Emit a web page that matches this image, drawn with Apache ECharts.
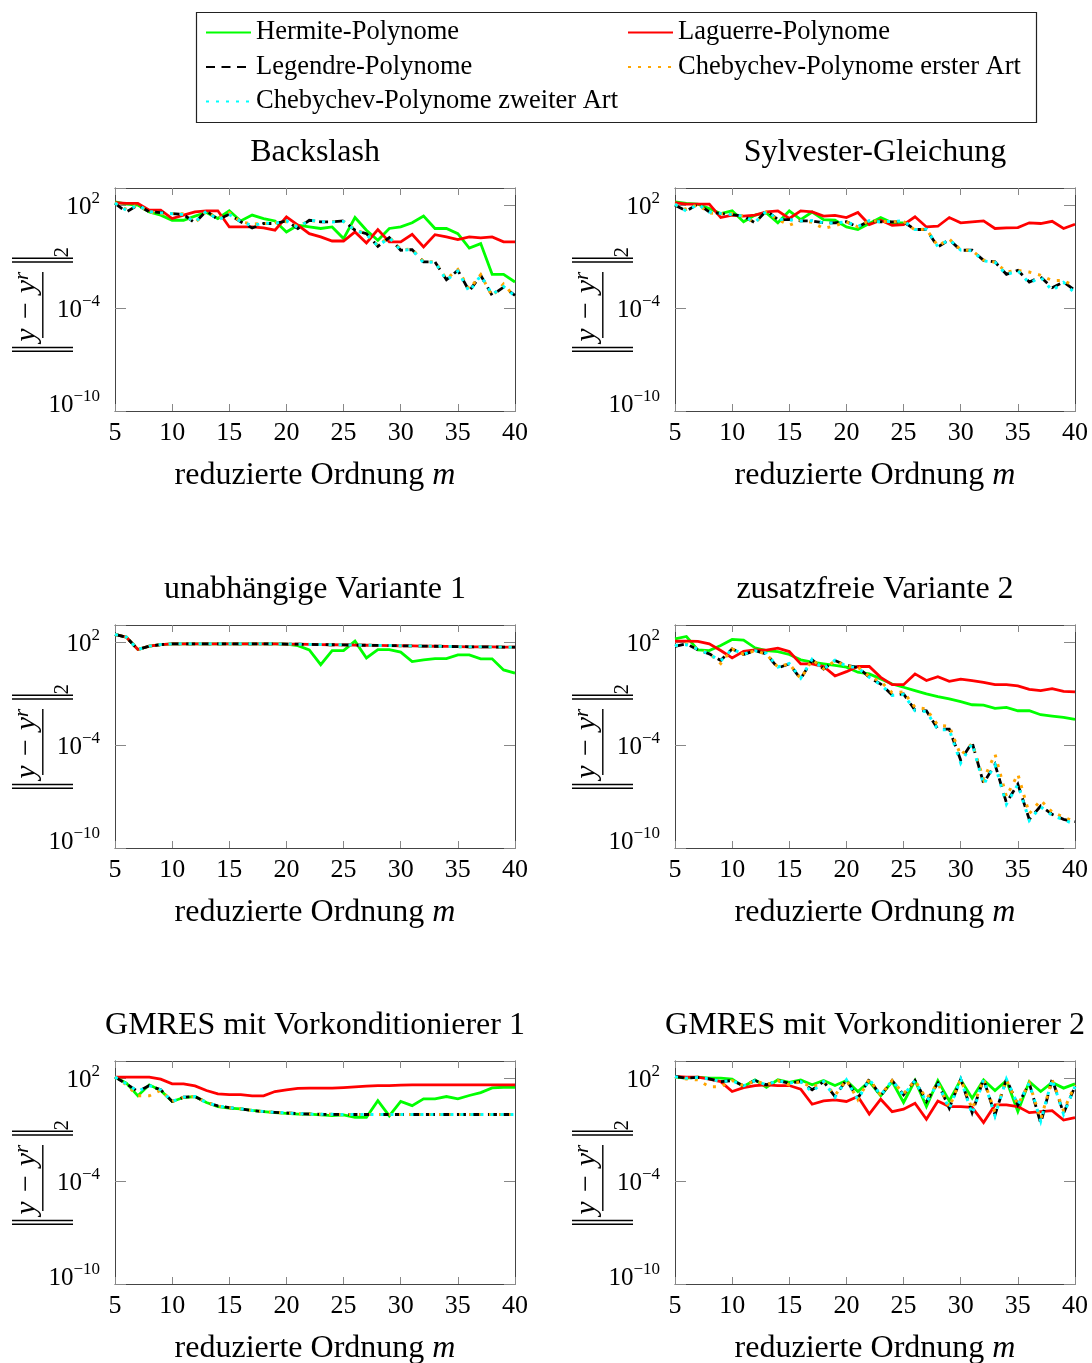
<!DOCTYPE html>
<html><head><meta charset="utf-8">
<script src="https://cdn.jsdelivr.net/npm/echarts@6/dist/echarts.min.js"></script>
<style>html,body{margin:0;padding:0;background:#fff}#c{width:1092px;height:1363px}</style>
</head><body><div id="c"></div><script>
// ---------------- data (error norms given as log10 values) ----------------
const orders = [5,6,7,8,9,10,11,12,13,14,15,16,17,18,19,20,21,22,23,24,25,26,27,28,29,30,31,32,33,34,35,36,37,38,39,40];
const yTickExponents = [-10, -4, 2];
const seriesNames = ['Hermite-Polynome','Laguerre-Polynome','Legendre-Polynome','Chebychev-Polynome erster Art','Chebychev-Polynome zweiter Art'];
const panelTitles = ['Backslash','Sylvester-Gleichung','unabhängige Variante 1','zusatzfreie Variante 2','GMRES mit Vorkonditionierer 1','GMRES mit Vorkonditionierer 2'];
const xAxisTitle = 'reduzierte Ordnung ';
const xAxisVariable = 'm';

// Backslash
const backslashHermite  = [2.19,2.06,2.0,1.6,1.42,1.12,1.12,1.36,1.57,1.22,1.67,1.08,1.42,1.22,1.08,0.44,0.83,0.73,0.64,0.73,0.05,1.28,0.54,-0.05,0.64,0.73,0.97,1.36,0.64,0.64,0.34,-0.5,-0.24,-2.03,-2.03,-2.48];
const backslashLaguerre = [2.14,2.1,2.1,1.71,1.71,1.22,1.42,1.61,1.67,1.67,0.73,0.73,0.73,0.67,0.54,1.32,0.83,0.34,0.15,-0.09,-0.09,0.44,-0.2,0.58,-0.14,-0.14,0.3,-0.44,0.28,0.15,-0.01,0.15,0.09,0.15,-0.14,-0.14];
const backslashLegendre = [2.1,1.61,2.0,1.61,1.57,1.51,1.45,0.97,1.67,1.16,1.47,1.03,0.67,0.93,0.93,1.08,0.64,1.12,1.03,1.03,1.08,0.54,0.34,-0.4,0.11,-0.63,-0.59,-1.31,-1.31,-2.35,-1.8,-3.01,-2.09,-3.26,-2.78,-3.26];
const backslashCheb1    = [2.12,1.75,2.0,1.6,1.5,1.51,1.5,0.97,1.67,1.2,1.55,1.03,0.9,0.93,0.97,1.05,0.75,1.1,1.05,1.05,1.05,0.6,0.3,-0.35,0.15,-0.6,-0.55,-1.3,-1.3,-2.3,-1.75,-2.9,-2.05,-3.3,-2.6,-3.36];
const backslashCheb2    = [2.12,1.7,2.0,1.62,1.55,1.5,1.45,1.0,1.65,1.15,1.45,1.05,0.8,0.95,0.95,1.08,0.7,1.12,1.05,1.02,1.05,0.55,0.3,-0.38,0.1,-0.62,-0.6,-1.35,-1.3,-2.38,-1.85,-3.05,-2.1,-3.2,-2.75,-3.3];
// Sylvester-Gleichung
const sylvesterHermite  = [2.19,2.1,2.06,1.8,1.51,1.67,1.03,1.42,1.55,0.97,1.67,1.16,1.6,1.16,1.12,0.73,0.58,0.93,1.28,0.97,0.97,null,null,null,null,null,null,null,null,null,null,null,null,null,null,null];
const sylvesterLaguerre = [2.14,2.06,2.06,2.06,1.28,1.42,1.36,1.42,1.61,1.67,1.22,1.67,1.61,1.36,1.4,1.28,1.57,0.87,1.12,0.83,0.87,1.32,0.73,0.77,1.28,0.97,1.03,1.08,0.64,0.67,0.69,0.97,0.93,1.06,0.64,0.89];
const sylvesterLegendre = [2.0,1.67,2.06,1.61,1.51,1.45,1.36,0.97,1.67,1.16,1.16,1.08,1.08,0.97,0.97,1.03,0.73,1.08,1.03,1.03,1.03,0.58,0.58,-0.44,-0.01,-0.63,-0.63,-1.22,-1.31,-2.03,-1.8,-2.48,-2.19,-2.81,-2.48,-2.97];
const sylvesterCheb1    = [2.05,1.75,2.04,1.55,1.5,1.5,1.36,0.97,1.6,1.16,0.83,1.1,1.0,0.64,0.8,1.03,0.73,1.1,1.05,1.03,1.05,0.55,0.6,-0.38,0.02,-0.6,-0.65,-1.2,-1.33,-1.9,-1.8,-1.9,-2.09,-2.39,-2.39,-2.74];
const sylvesterCheb2    = [2.05,1.65,2.05,1.6,1.52,1.45,1.36,1.0,1.65,1.18,1.15,1.08,1.1,0.97,0.95,1.03,0.75,1.1,1.03,1.05,1.08,0.58,0.6,-0.42,0.0,-0.62,-0.66,-1.25,-1.33,-2.05,-1.82,-2.54,-2.2,-2.97,-2.5,-3.13];
// unabhängige Variante 1
const variante1Hermite  = [2.45,2.29,1.57,1.77,1.86,1.9,1.9,1.9,1.9,1.9,1.9,1.9,1.9,1.9,1.9,1.89,1.8,1.55,0.69,1.51,1.51,2.06,1.08,1.57,1.57,1.42,0.87,0.97,1.04,1.04,1.26,1.26,1.03,1.03,0.38,0.19];
const variante1Laguerre = [2.45,2.29,1.57,1.77,1.86,1.9,1.9,1.9,1.9,1.9,1.9,1.9,1.9,1.9,1.9,1.89,1.88,1.87,1.86,1.85,1.84,1.83,1.82,1.81,1.8,1.79,1.78,1.77,1.76,1.75,1.74,1.73,1.73,1.72,1.71,1.71];
const variante1Legendre = [2.45,2.29,1.57,1.77,1.86,1.9,1.9,1.9,1.9,1.9,1.9,1.9,1.9,1.9,1.9,1.89,1.88,1.87,1.86,1.85,1.84,1.83,1.82,1.81,1.8,1.79,1.78,1.77,1.76,1.75,1.74,1.73,1.73,1.72,1.71,1.71];
const variante1Cheb1    = [2.45,2.29,1.57,1.77,1.86,1.9,1.9,1.9,1.9,1.9,1.9,1.9,1.9,1.9,1.9,1.89,1.88,1.87,1.86,1.85,1.84,1.83,1.82,1.81,1.8,1.79,1.78,1.77,1.76,1.75,1.74,1.73,1.73,1.72,1.71,1.71];
const variante1Cheb2    = [2.45,2.29,1.57,1.77,1.86,1.9,1.9,1.9,1.9,1.9,1.9,1.9,1.9,1.9,1.9,1.89,1.88,1.87,1.86,1.85,1.84,1.83,1.82,1.81,1.8,1.79,1.78,1.77,1.76,1.75,1.74,1.73,1.73,1.72,1.71,1.71];
// zusatzfreie Variante 2
const variante2Hermite  = [2.19,2.33,1.55,1.51,1.8,2.16,2.12,1.67,1.51,1.45,1.28,0.97,0.83,0.73,0.64,0.54,0.25,0.15,-0.14,-0.44,-0.63,-0.83,-1.02,-1.18,-1.31,-1.47,-1.65,-1.67,-1.86,-1.8,-2.0,-2.0,-2.23,-2.31,-2.39,-2.5];
const variante2Laguerre = [2.06,2.06,2.04,1.9,1.51,1.08,1.47,1.55,1.53,1.65,1.45,0.73,0.73,0.58,0.03,0.28,0.58,0.58,-0.05,-0.48,-0.48,0.15,-0.24,-0.01,-0.28,-0.16,-0.24,-0.34,-0.48,-0.48,-0.55,-0.75,-0.83,-0.71,-0.87,-0.9];
const variante2Legendre = [1.75,1.9,1.55,1.32,0.93,1.61,1.28,1.51,1.32,0.5,0.73,-0.14,0.97,0.44,0.93,0.64,0.54,-0.05,-0.44,-1.08,-1.02,-1.96,-2.0,-3.07,-3.07,-4.88,-3.85,-6.23,-5.12,-7.36,-6.28,-8.33,-7.55,-8.04,-8.33,-8.47];
const variante2Cheb1    = [1.8,1.9,1.6,1.35,0.75,1.6,1.3,1.5,1.3,0.55,0.75,-0.14,0.97,0.45,0.9,0.6,0.55,0.0,-0.3,-0.95,-0.9,-1.8,-1.9,-2.85,-2.9,-4.6,-3.9,-6.0,-4.53,-7.0,-5.7,-8.0,-7.22,-7.9,-8.2,-8.47];
const variante2Cheb2    = [1.8,1.85,1.6,1.3,0.9,1.6,1.3,1.5,1.35,0.55,0.75,-0.1,1.0,0.42,0.95,0.6,0.5,-0.05,-0.48,-1.1,-1.05,-2.0,-2.05,-3.1,-3.1,-5.05,-3.9,-6.3,-5.15,-7.45,-6.3,-8.4,-7.6,-8.1,-8.35,-8.62];
// GMRES mit Vorkonditionierer 1
const gmres1Hermite  = [2.06,1.71,0.97,1.61,1.28,0.64,0.87,0.93,0.58,0.34,0.25,0.21,0.12,0.05,-0.01,-0.05,-0.1,-0.1,-0.14,-0.18,-0.14,-0.28,-0.28,0.69,-0.2,0.64,0.4,0.79,0.79,0.93,0.79,0.99,1.16,1.43,1.47,1.47];
const gmres1Laguerre = [2.06,2.06,2.06,2.06,1.94,1.67,1.67,1.55,1.28,1.08,1.04,1.04,0.97,0.97,1.22,1.32,1.4,1.42,1.42,1.42,1.45,1.49,1.53,1.57,1.57,1.59,1.61,1.61,1.61,1.61,1.61,1.61,1.61,1.61,1.61,1.61];
const gmres1Legendre = [2.06,1.67,1.22,1.57,1.32,0.64,0.89,0.93,0.58,0.38,0.28,0.21,0.11,0.05,0.01,-0.03,-0.07,-0.09,-0.11,-0.11,-0.12,-0.12,-0.12,-0.12,-0.12,-0.12,-0.12,-0.12,-0.12,-0.12,-0.12,-0.12,-0.12,-0.12,-0.12,-0.12];
const gmres1Cheb1    = [2.06,1.62,0.97,0.97,1.3,0.64,0.89,0.93,0.58,0.38,0.28,0.21,0.11,0.05,0.01,-0.03,-0.07,-0.09,-0.11,-0.11,-0.12,-0.12,-0.12,-0.12,-0.12,-0.12,-0.12,-0.12,-0.12,-0.12,-0.12,-0.12,-0.12,-0.12,-0.12,-0.12];
const gmres1Cheb2    = [2.06,1.67,1.22,1.57,1.32,0.64,0.89,0.93,0.58,0.38,0.28,0.21,0.11,0.05,0.01,-0.03,-0.07,-0.09,-0.11,-0.11,-0.12,-0.12,-0.12,-0.12,-0.12,-0.12,-0.12,-0.12,-0.12,-0.12,-0.12,-0.12,-0.12,-0.12,-0.12,-0.12];
// GMRES mit Vorkonditionierer 2
const gmres2Hermite  = [2.06,2.0,2.06,2.0,2.0,1.94,1.51,1.9,1.47,1.9,1.75,1.9,1.61,1.86,1.57,1.86,1.22,1.8,0.97,1.8,0.58,1.86,0.34,1.86,0.67,1.9,0.83,1.9,1.28,1.86,0.05,1.8,1.22,1.75,1.42,1.67];
const gmres2Laguerre = [2.1,2.06,2.06,1.94,1.8,1.22,1.45,1.57,1.61,1.57,1.57,1.36,0.48,0.67,0.73,0.64,0.93,-0.09,0.77,0.05,0.19,0.54,-0.4,0.67,0.34,0.34,0.3,-0.59,0.44,0.44,0.34,-0.01,0.05,0.11,-0.44,-0.3];
const gmres2Legendre = [2.1,2.0,2.04,1.96,1.8,1.86,1.55,1.86,1.61,1.86,1.71,1.8,1.32,1.8,0.93,1.9,0.83,1.94,0.97,1.86,1.03,1.86,0.64,1.71,0.25,1.94,-0.01,1.94,-0.14,1.94,0.44,1.71,-0.63,1.94,-0.05,1.51];
const gmres2Cheb1    = [2.06,1.95,1.9,1.5,1.5,1.86,1.55,1.86,1.61,1.86,1.6,1.8,1.45,1.8,1.0,1.9,0.75,1.94,1.0,1.86,1.1,1.86,0.8,1.71,0.3,1.94,0.2,1.94,0.0,1.9,0.44,1.71,-0.4,1.9,0.1,1.6];
const gmres2Cheb2    = [2.08,2.0,2.04,1.96,1.8,1.86,1.55,1.86,1.6,1.86,1.71,1.8,1.2,1.8,0.9,1.9,0.75,1.94,1.0,1.86,1.0,1.86,0.6,1.71,0.2,1.94,-0.1,1.94,-0.2,1.94,0.45,1.71,-0.5,1.94,-0.1,1.51];

const panelData = [
  [backslashHermite, backslashLaguerre, backslashLegendre, backslashCheb1, backslashCheb2],
  [sylvesterHermite, sylvesterLaguerre, sylvesterLegendre, sylvesterCheb1, sylvesterCheb2],
  [variante1Hermite, variante1Laguerre, variante1Legendre, variante1Cheb1, variante1Cheb2],
  [variante2Hermite, variante2Laguerre, variante2Legendre, variante2Cheb1, variante2Cheb2],
  [gmres1Hermite, gmres1Laguerre, gmres1Legendre, gmres1Cheb1, gmres1Cheb2],
  [gmres2Hermite, gmres2Laguerre, gmres2Legendre, gmres2Cheb1, gmres2Cheb2]
];

// ---------------- styling / layout ----------------
const FONT = "'Liberation Serif', 'DejaVu Serif', serif";
const lineStyles = [
  {color:'#00ff00', width:2.8, type:'solid'},
  {color:'#ff0000', width:2.8, type:'solid'},
  {color:'#000000', width:2.8, type:[9,6.5]},
  {color:'#ffa500', width:3, type:[3,7]},
  {color:'#00ffff', width:3, type:[3,7]}
];
const colLeft = [115, 675];
const rowTop = [188, 625, 1061];
const plotW = 400, plotH = 223;

const grids = [], xAxes = [], yAxes = [], series = [], titles = [];
const frameColor = '#444', tickColor = '#888';

function yLabel(v) {
  const e = Math.round(v);
  if (Math.abs(v - e) > 1e-6 || yTickExponents.indexOf(e) < 0) return '';
  const ex = e < 0 ? '\u2212' + (-e) : String(e);
  if (e === yTickExponents[0]) return '{b|10}{s|' + ex + '}\n{gap| }';
  return '{b|10}{s|' + ex + '}';
}

const yLabelRich = {
  b:   {fontFamily: FONT, fontSize: 25, color: '#000', lineHeight: 30, verticalAlign: 'bottom'},
  s:   {fontFamily: FONT, fontSize: 17, color: '#000', lineHeight: 30, verticalAlign: 'top'},
  gap: {fontFamily: FONT, fontSize: 10, lineHeight: 16, width: 1}
};

// y axis name: ||y - y_r||_2 (rotated), delimiters drawn as thin text-box backgrounds
const yNameRich = {
  bar: {width: 1.4, height: 61, lineHeight: 61, backgroundColor: '#000', verticalAlign: 'middle'},
  g:   {width: 2.4, height: 61, lineHeight: 61},
  g2:  {width: 5, height: 61, lineHeight: 61},
  g3:  {width: 9, height: 61, lineHeight: 61},
  t:   {fontFamily: FONT, fontSize: 30, fontStyle: 'italic', color: '#000', lineHeight: 11, verticalAlign: 'top'},
  r:   {fontFamily: FONT, fontSize: 21, fontStyle: 'italic', color: '#000', lineHeight: 20, verticalAlign: 'top'},
  two: {fontFamily: FONT, fontSize: 21, color: '#000', lineHeight: 11, verticalAlign: 'bottom'}
};
const yNameText = '{bar| }{g| }{bar| }{g2| }{t|y \u2212 y}{r|r}{g3| }{bar| }{g| }{bar| }{two|2}';
const fracRich = {
  f:  {width: 66, height: 1.4, lineHeight: 1.4, backgroundColor: '#000'},
  sp: {width: 11, height: 1.4, lineHeight: 1.4}
};

for (let p = 0; p < 6; p++) {
  const col = p % 2, row = Math.floor(p / 2);
  grids.push({left: colLeft[col], top: rowTop[row], width: plotW, height: plotH, outerBoundsMode: 'none'});
  titles.push({text: panelTitles[p], left: colLeft[col] + plotW / 2, top: rowTop[row] - 51, textAlign: 'center', padding: 0,
    textStyle: {fontFamily: FONT, fontSize: 32, fontWeight: 'normal', color: '#000', lineHeight: 32}});
  // bottom x axis
  xAxes.push({type: 'value', gridIndex: p, min: 5, max: 40, interval: 5, position: 'bottom',
    axisLine: {show: true, onZero: false, lineStyle: {color: frameColor, width: 1}},
    axisTick: {show: true, inside: true, length: 7, lineStyle: {color: tickColor}},
    axisLabel: {show: true, margin: 9, fontFamily: FONT, fontSize: 26, color: '#000'},
    splitLine: {show: false},
    name: '{t|' + xAxisTitle + '}{i|' + xAxisVariable + '}', nameLocation: 'middle', nameGap: 49, nameMoveOverlap: false,
    nameTextStyle: {rich: {t: {fontFamily: FONT, fontSize: 32, color: '#000', lineHeight: 32}, i: {fontFamily: FONT, fontSize: 32, fontStyle: 'italic', color: '#000', lineHeight: 32}}}
  });
  // top mirror x axis
  xAxes.push({type: 'value', gridIndex: p, min: 5, max: 40, interval: 5, position: 'top',
    axisLine: {show: true, onZero: false, lineStyle: {color: frameColor, width: 1}},
    axisTick: {show: true, inside: true, length: 7, lineStyle: {color: tickColor}},
    axisLabel: {show: false}, splitLine: {show: false}});
  // left y axis
  yAxes.push({type: 'value', gridIndex: p, min: -10, max: 3, interval: 6, position: 'left',
    axisLine: {show: true, onZero: false, lineStyle: {color: frameColor, width: 1}},
    axisTick: {show: true, inside: true, length: 11, lineStyle: {color: tickColor}},
    axisLabel: {show: true, margin: 15, showMinLabel: true, formatter: yLabel, rich: yLabelRich},
    splitLine: {show: false},
    name: yNameText, nameLocation: 'middle', nameRotate: 90, nameGap: 42, nameMoveOverlap: false,
    nameTextStyle: {rich: yNameRich}
  });
  // right mirror y axis
  yAxes.push({type: 'value', gridIndex: p, min: -10, max: 3, interval: 6, position: 'right',
    axisLine: {show: true, onZero: false, lineStyle: {color: frameColor, width: 1}},
    axisTick: {show: true, inside: true, length: 11, lineStyle: {color: tickColor}},
    axisLabel: {show: false}, splitLine: {show: false}});
  // helper axis carrying only the fraction bar of the y-axis label
  yAxes.push({type: 'value', gridIndex: p, min: -10, max: 3, interval: 6, position: 'left',
    axisLine: {show: false}, axisTick: {show: false}, axisLabel: {show: false}, splitLine: {show: false},
    name: '{f| }{sp| }', nameLocation: 'middle', nameRotate: 90, nameGap: 71.5, nameMoveOverlap: false,
    nameTextStyle: {rich: fracRich}});

  for (let s = 0; s < 5; s++) {
    const vals = panelData[p][s];
    series.push({
      type: 'line', name: seriesNames[s], xAxisIndex: 2 * p, yAxisIndex: 3 * p,
      data: orders.map((m, i) => [m, vals[i]]),
      symbol: 'none', showSymbol: false, clip: true, connectNulls: false,
      lineStyle: {color: lineStyles[s].color, width: lineStyles[s].width, type: lineStyles[s].type, cap: 'butt', join: 'miter'},
      itemStyle: {color: lineStyles[s].color},
      emphasis: {disabled: true}, z: 2 + s
    });
  }
}

const legendText = {fontFamily: FONT, fontSize: 26.5, color: '#000', lineHeight: 26};
const legendCommon = {orient: 'vertical', top: 19, padding: 0, itemWidth: 45, itemHeight: 14, itemGap: 7.5,
  textStyle: legendText, selectedMode: false, itemStyle: {opacity: 0, borderWidth: 0}};
const option = {
  backgroundColor: '#fff',
  animation: false,
  title: titles,
  legend: [
    Object.assign({data: [seriesNames[0], seriesNames[2], seriesNames[4]], left: 205}, legendCommon),
    Object.assign({data: [seriesNames[1], seriesNames[3]], left: 627}, legendCommon)
  ],
  graphic: [{type: 'rect', left: 194, top: 10, shape: {width: 840, height: 110}, style: {fill: 'none', stroke: '#222', lineWidth: 1.2}, silent: true}],
  grid: grids, xAxis: xAxes, yAxis: yAxes, series: series
};
const chart = echarts.init(document.getElementById('c'), null, {renderer: 'canvas'});
chart.setOption(option);
</script></body></html>
